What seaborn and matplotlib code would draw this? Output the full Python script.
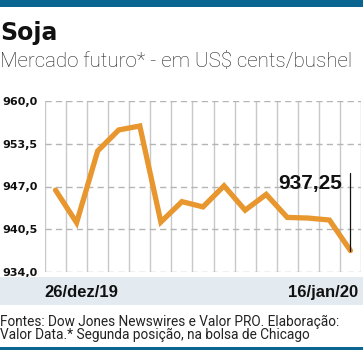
import matplotlib
matplotlib.use("Agg")
import matplotlib.pyplot as plt
import seaborn as sns
import pandas as pd
from matplotlib.patches import Rectangle

# ---- data ----
dias = list(range(15))
precos = [946.45, 941.5, 952.4, 955.6, 956.2, 941.6, 944.7, 943.9,
          947.1, 943.4, 945.8, 942.3, 942.2, 941.9, 937.25]
y_ticks = [934.0, 940.5, 947.0, 953.5, 960.0]
y_labels = ["934,0", "940,5", "947,0", "953,5", "960,0"]
x_labels = ["26/dez/19", "16/jan/20"]
ultimo_label = "937,25"
titulo = "Soja"
subtitulo = "Mercado futuro* - em US$ cents/bushel"
rodape1 = "Fontes: Dow Jones Newswires e Valor PRO. Elaboração:"
rodape2 = "Valor Data.* Segunda posição, na bolsa de Chicago"

sns.set_theme(style="white")
plt.rcParams['font.family'] = ['DejaVu Sans']

W, H = 363, 350
fig = plt.figure(figsize=(W / 100, H / 100), dpi=100)
fig.patch.set_facecolor("white")
renderer = fig.canvas.get_renderer()


def fx(px):
    return px / W


def fy(py):
    return 1 - py / H


def fit_width(txt, target_px):
    """scale the font size so that the text is target_px wide"""
    for _ in range(3):
        w = txt.get_window_extent(renderer=renderer).width
        if w > 0:
            txt.set_fontsize(txt.get_fontsize() * target_px / w)


# top and bottom bars
blue = "#0a6690"
fig.add_artist(Rectangle((0, fy(7)), 1, 7 / H, transform=fig.transFigure,
                         facecolor=blue, edgecolor="none"))
fig.add_artist(Rectangle((0, 0), 1, 3.5 / H, transform=fig.transFigure,
                         facecolor=blue, edgecolor="none"))
# x-label band
fig.add_artist(Rectangle((0, fy(305)), 1, 28.5 / H, transform=fig.transFigure,
                         facecolor="#e3ebf0", edgecolor="none"))

light = ['Roboto', 'DejaVu Sans']

fig.text(fx(0), fy(40), titulo, fontsize=17, fontweight='heavy',
         family=['DejaVu Sans'], color="#111111", va="baseline", ha="left")
sub = fig.text(fx(0), fy(67), subtitulo, fontsize=15, family=light,
               fontweight='light', color="#222222", va="baseline", ha="left")
fit_width(sub, 352)

ax = fig.add_axes([fx(45), fy(272), fx(361) - fx(45), (272 - 101) / H])
ax.set_facecolor("white")
df = pd.DataFrame({"dia": dias, "preco": precos})

# grid
for i in range(len(dias) + 1):
    ax.axvline(i - 0.5, color="#c8c8c8", lw=1.0, zorder=0)
for v in y_ticks:
    ax.axhline(v, color="#b5b5b5", lw=1.0, ls=(0, (4.5, 3)), zorder=0.5)

sns.lineplot(data=df, x="dia", y="preco", ax=ax, color="#e8962e",
             linewidth=3.8, zorder=3)
ax.lines[-1].set_solid_joinstyle('miter')

ax.set_xlim(-0.5, len(dias) - 0.5)
ax.set_ylim(934, 960)
ax.set_xticks([])
ax.set_xlabel("")
ax.set_ylabel("")
ax.set_yticks(y_ticks)
ax.set_yticklabels(y_labels, fontsize=8, fontweight='bold', color="#111111",
                   family=['DejaVu Sans'])
ax.tick_params(axis='y', length=0, pad=5.5)
for s in ax.spines.values():
    s.set_visible(False)

# last value annotation
ax.plot([dias[-1], dias[-1]], [precos[-1], 949.0], color="#111111", lw=0.9,
        zorder=4)
ax.text(dias[-1] - 0.4, 946.6, ultimo_label, fontsize=15, fontweight='bold',
        family=['Liberation Sans', 'DejaVu Sans'], color="#111111",
        ha="right", va="baseline", zorder=5)

# x labels in band
fig.text(fx(44), fy(297), x_labels[0], fontsize=12, fontweight='bold',
         family=['Liberation Sans', 'DejaVu Sans'], color="#111111",
         ha="left", va="baseline")
fig.text(fx(358), fy(297), x_labels[1], fontsize=12, fontweight='bold',
         family=['Liberation Sans', 'DejaVu Sans'], color="#111111",
         ha="right", va="baseline")

r1 = fig.text(fx(0), fy(326), rodape1, fontsize=9, family=['Roboto', 'DejaVu Sans'],
              color="#222222", ha="left", va="baseline")
fit_width(r1, 337)
fig.text(fx(0), fy(339), rodape2, fontsize=r1.get_fontsize(),
         family=['Roboto', 'DejaVu Sans'], color="#222222", ha="left",
         va="baseline")

fig.savefig("out.png", dpi=100, facecolor=fig.get_facecolor())
